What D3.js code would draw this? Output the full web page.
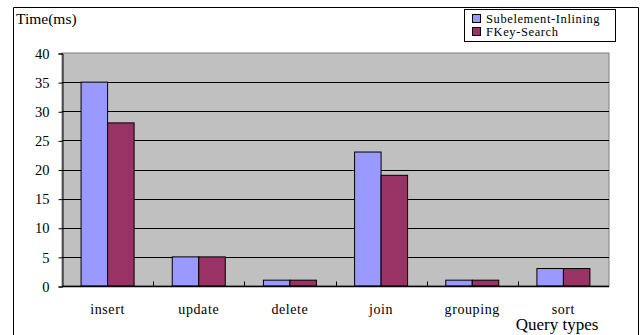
<!DOCTYPE html>
<html>
<head>
<meta charset="utf-8">
<script src="https://cdn.jsdelivr.net/npm/d3@7"></script>
<style>
  html, body { margin: 0; padding: 0; background: #fff; }
  svg { display: block; }
  text { font-family: "Liberation Serif", "Times New Roman", serif; fill: #000; }
</style>
</head>
<body>
<svg id="chart" width="640" height="335"></svg>
<script>
// Query execution times per query type
const categories = ["insert", "update", "delete", "join", "grouping", "sort"];
const seriesNames = ["Subelement-Inlining", "FKey-Search"];
const inliningTimes = [35, 5, 1, 23, 1, 3];
const fkeyTimes = [28, 5, 1, 19, 1, 3];
const yTicks = [0, 5, 10, 15, 20, 25, 30, 35, 40];
const seriesColors = ["#9999ff", "#993366"];

const svg = d3.select("#chart");
const plot = { left: 62, right: 609, top: 53, bottom: 286 };

// outer frame (no bottom edge)
svg.append("path")
  .attr("d", "M13.5,335 L13.5,7.5 L638.5,7.5 L638.5,335")
  .attr("fill", "none").attr("stroke", "#000").attr("stroke-width", 1);

const x = d3.scaleBand().domain(categories).range([plot.left, plot.right]);
const inner = d3.scaleBand().domain(seriesNames).range([0, x.bandwidth()]).paddingInner(0).paddingOuter(0.72);
const y = d3.scaleLinear().domain([0, 40]).range([plot.bottom, plot.top]);

// plot background
svg.append("rect")
  .attr("x", plot.left).attr("y", plot.top)
  .attr("width", plot.right - plot.left).attr("height", plot.bottom - plot.top)
  .attr("fill", "#c0c0c0").attr("stroke", "#808080").attr("stroke-width", 1);

// horizontal gridlines
svg.append("g").selectAll("line")
  .data(yTicks.filter(t => t > 0 && t < 40))
  .join("line")
  .attr("x1", plot.left).attr("x2", plot.right)
  .attr("y1", d => Math.round(y(d)) + 0.5).attr("y2", d => Math.round(y(d)) + 0.5)
  .attr("stroke", "#000").attr("stroke-width", 1);

// bars
const groups = [inliningTimes, fkeyTimes];
categories.forEach((c, i) => {
  seriesNames.forEach((s, j) => {
    const v = groups[j][i];
    svg.append("rect")
      .attr("x", x(c) + inner(s))
      .attr("y", y(v))
      .attr("width", inner.bandwidth())
      .attr("height", y(0) - y(v))
      .attr("fill", seriesColors[j])
      .attr("stroke", "#000").attr("stroke-width", 1);
  });
});

// y axis
const yAxis = d3.axisLeft(y).tickValues(yTicks).tickSize(4).tickPadding(9);
const gy = svg.append("g").attr("transform", `translate(${plot.left + 0.5},0.5)`).call(yAxis);
gy.select(".domain").attr("stroke", "#000");
gy.selectAll("text").style("font-size", "14.5px").attr("font-family", "Liberation Serif, serif");

// x axis: ticks at category boundaries pointing up
const gx = svg.append("g").attr("transform", `translate(0,${plot.bottom + 0.5})`);
gx.append("line").attr("x1", plot.left).attr("x2", plot.right).attr("stroke", "#000").attr("stroke-width", 1.5);
gx.selectAll("line.tick")
  .data(categories.slice(1))
  .join("line").attr("class", "tick")
  .attr("x1", d => Math.round(x(d)) + 0.5).attr("x2", d => Math.round(x(d)) + 0.5)
  .attr("y1", 0).attr("y2", -5)
  .attr("stroke", "#000");
gx.selectAll("text")
  .data(categories)
  .join("text")
  .attr("x", d => x(d) + x.bandwidth() / 2)
  .attr("y", 27)
  .attr("text-anchor", "middle")
  .style("font-size", "14px")
  .style("letter-spacing", "0.6px")
  .text(d => d);

// axis titles
svg.append("text").attr("x", 16).attr("y", 24).style("font-size", "15.5px").text("Time(ms)");
svg.append("text").attr("x", 557).attr("y", 330).attr("text-anchor", "middle")
  .style("font-size", "17px").text("Query types");

// legend
const lg = svg.append("g");
lg.append("rect").attr("x", 464.5).attr("y", 9.5).attr("width", 151).attr("height", 32)
  .attr("fill", "#fff").attr("stroke", "#000");
seriesNames.forEach((s, j) => {
  lg.append("rect").attr("x", 472.5).attr("y", 14.5 + j * 13).attr("width", 8).attr("height", 8)
    .attr("fill", seriesColors[j]).attr("stroke", "#000");
  lg.append("text").attr("x", 486).attr("y", 22.5 + j * 13)
    .style("font-size", "12.5px").style("letter-spacing", "0.6px").text(s);
});
</script>
</body>
</html>
